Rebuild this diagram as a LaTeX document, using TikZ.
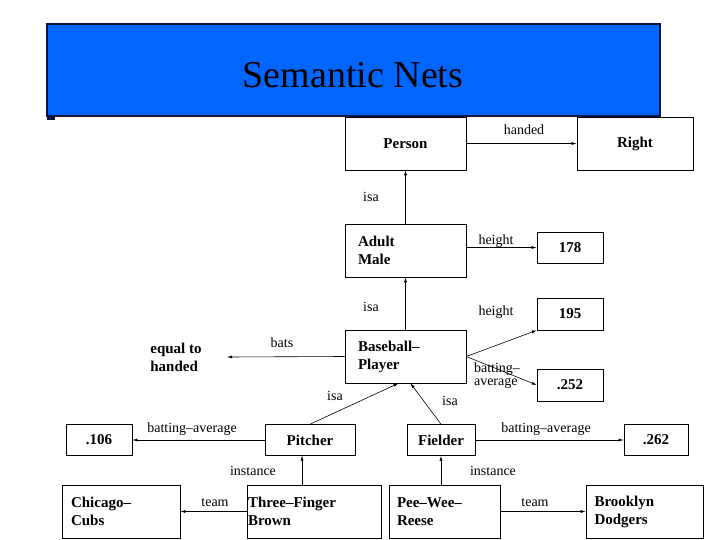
\documentclass[tikz,border=0pt]{standalone}
\usepackage{fontspec}
\setmainfont{Liberation Serif}
\usetikzlibrary{arrows.meta}
\definecolor{titleblue}{RGB}{0,102,255}
\definecolor{navy}{RGB}{10,20,60}
\begin{document}
\begin{tikzpicture}[x=1pt,y=-1pt,
  box/.style={draw,line width=0.6pt,inner sep=0pt,font=\bfseries\fontsize{15}{18}\selectfont},
  lbl/.style={font=\fontsize{14}{12}\selectfont,inner sep=1pt},
  arr/.style={-{Latex[length=5pt,width=3pt]},line width=0.6pt}]
\useasboundingbox (0,0) rectangle (720,540);
\fill[white] (0,0) rectangle (720,540);
\draw[navy,line width=1.5pt,fill=titleblue] (47,24) rectangle (660,116);
\fill[navy] (47,116) rectangle (55,120);
\node[font=\fontsize{38}{40}\selectfont] (title) at (353,75) {Semantic Nets};
% boxes
\node[box,minimum width=121,minimum height=53] (person) at (405.5,143.5) {Person};
\node[box,minimum width=116,minimum height=53] (right) at (635,143.5) {Right};
\node[box,minimum width=121,minimum height=53,align=left,text width=95] (adult) at (405.5,250.5) {Adult\\Male};
\node[box,minimum width=66,minimum height=31] (v178) at (570,247.5) {178};
\node[box,minimum width=66,minimum height=32] (v195) at (570,314) {195};
\node[box,minimum width=121,minimum height=53,align=left,text width=95] (bp) at (405.5,356.5) {Baseball--\\Player};
\node[box,minimum width=66,minimum height=32] (v252) at (570,385) {.252};
\node[box,draw=none,align=left] (eq) at (176,357) {equal to\\handed};
\coordinate (eqe) at (227,357);
\node[box,minimum width=90,minimum height=31] (pitcher) at (310,440) {Pitcher};
\node[box,minimum width=68,minimum height=31] (fielder) at (441,440) {Fielder};
\node[box,minimum width=66,minimum height=31] (v106) at (99,440) {.106};
\node[box,minimum width=64,minimum height=31] (v262) at (656,440) {.262};
\node[box,minimum width=118,minimum height=53,align=left,text width=100] (cubs) at (121,511.5) {Chicago--\\Cubs};
\node[box,minimum width=134,minimum height=53,align=left,text width=132] (tfb) at (314,511.5) {Three--Finger\\Brown};
\node[box,minimum width=111,minimum height=53,align=left,text width=95] (pwr) at (444.5,511.5) {Pee--Wee--\\Reese};
\node[box,minimum width=117,minimum height=53,align=left,text width=100] (bd) at (644.5,511.5) {Brooklyn\\Dodgers};
% edges
\draw[arr] (person.east) -- (right.west);
\node[lbl] (l1) at (524,130) {handed};
\draw[arr] (adult.north) -- (person.south);
\node[lbl] (l2) at (371,197) {isa};
\draw[arr] (adult.east |- v178.west) -- (v178.west);
\node[lbl] (l3) at (496,241) {height};
\draw[arr] (bp.east) -- (v195.south west);
\draw[arr] (bp.north) -- (adult.south);
\node[lbl] (l4) at (371,307) {isa};
\node[lbl] (l5) at (496,312) {height};
\draw[arr] (bp.east) -- (v252.west);
\node[lbl,align=left,font=\fontsize{14}{13}\selectfont] (l6) at (497,376) {batting--\\average};
\draw[arr] (bp.west) -- (eqe);
\node[lbl] (l7) at (282,343) {bats};
\draw[arr] (pitcher.north) -- ([xshift=-7]bp.south);
\node[lbl] (l8) at (335,396) {isa};
\draw[arr] (fielder.north) -- ([xshift=5]bp.south);
\node[lbl] (l9) at (450,401) {isa};
\draw[arr] (pitcher.west) -- (v106.east);
\node[lbl,fill=white] (l10) at (192,429) {batting--average};
\draw[arr] (fielder.east) -- (v262.west);
\node[lbl,fill=white] (l11) at (546,429) {batting--average};
\draw[arr] (302,485) -- (302,455.5);
\node[lbl] (l12) at (253,471) {instance};
\draw[arr] (pwr.north -| fielder.south) -- (fielder.south);
\node[lbl] (l13) at (493,471) {instance};
\draw[arr] (tfb.west) -- (cubs.east);
\node[lbl] (l14) at (215,503) {team};
\draw[arr] (pwr.east) -- (bd.west);
\node[lbl] (l15) at (535,503) {team};
\end{tikzpicture}
\end{document}
